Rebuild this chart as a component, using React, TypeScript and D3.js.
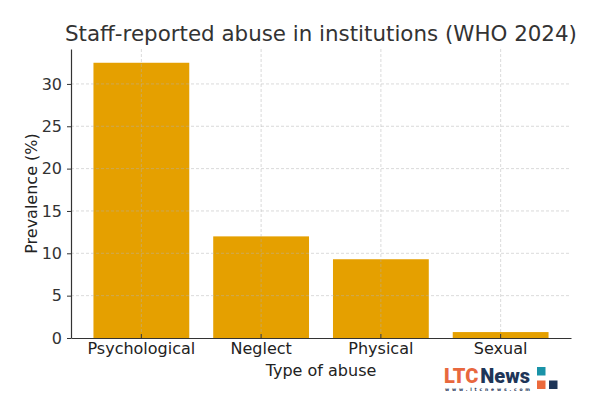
import React, { useEffect, useRef } from 'react'
import * as d3 from 'd3'

const categories = ['Psychological', 'Neglect', 'Physical', 'Sexual']
const prevalence = [32.5, 12.0, 9.3, 0.7]
const yTicks = [0, 5, 10, 15, 20, 25, 30]

const W = 600
const H = 395
const margin = { top: 49, right: 29, bottom: 57, left: 71 }
const FONT = 'DejaVu Sans, sans-serif'

export default function App() {
  const svgRef = useRef(null)

  useEffect(() => {
    const svg = d3.select(svgRef.current)
    svg.selectAll('*').remove()

    const x = d3
      .scaleBand()
      .domain(categories)
      .range([margin.left, W - margin.right])
      .paddingInner(0.2)
      .paddingOuter(0.1875)

    const y = d3
      .scaleLinear()
      .domain([0, 32.5 * 1.05])
      .range([H - margin.bottom, margin.top])

    const bottom = H - margin.bottom

    // bars
    svg
      .append('g')
      .selectAll('rect')
      .data(prevalence)
      .enter()
      .append('rect')
      .attr('x', (d, i) => x(categories[i]))
      .attr('y', (d) => y(d))
      .attr('width', x.bandwidth())
      .attr('height', (d) => bottom - y(d))
      .attr('fill', '#E5A000')

    // grid, drawn over the bars like the original
    const grid = svg.append('g').attr('stroke', '#b0b0b0').attr('stroke-opacity', 0.6).attr('stroke-dasharray', '3,2').attr('stroke-width', 0.8)
    grid
      .selectAll('.hg')
      .data(yTicks.slice(1))
      .enter()
      .append('line')
      .attr('x1', margin.left)
      .attr('x2', W - margin.right)
      .attr('y1', (d) => y(d))
      .attr('y2', (d) => y(d))
    grid
      .selectAll('.vg')
      .data(categories)
      .enter()
      .append('line')
      .attr('x1', (d) => x(d) + x.bandwidth() / 2)
      .attr('x2', (d) => x(d) + x.bandwidth() / 2)
      .attr('y1', margin.top)
      .attr('y2', bottom)

    // y axis
    const yAxis = svg
      .append('g')
      .attr('transform', `translate(${margin.left},0)`)
      .call(d3.axisLeft(y).tickValues(yTicks).tickSize(4).tickPadding(5).tickSizeOuter(0))
    yAxis.select('.domain').attr('stroke', '#333').attr('stroke-width', 1.2)
    yAxis.selectAll('line').attr('stroke', '#333')
    yAxis.selectAll('text').attr('font-family', FONT).attr('font-size', 16).attr('fill', '#333')

    // x axis, ticks point inward
    const xAxis = svg
      .append('g')
      .attr('transform', `translate(0,${bottom})`)
      .call(d3.axisBottom(x).tickSize(-4).tickPadding(5).tickSizeOuter(0))
    xAxis.select('.domain').attr('stroke', '#333').attr('stroke-width', 1.2)
    xAxis.selectAll('line').attr('stroke', '#333')
    xAxis.selectAll('text').attr('font-family', FONT).attr('font-size', 16).attr('fill', '#222')

    // title and axis labels
    svg
      .append('text')
      .attr('x', 321)
      .attr('y', 41)
      .attr('text-anchor', 'middle')
      .attr('font-family', FONT)
      .attr('font-size', 21.4)
      .attr('fill', '#333')
      .text('Staff-reported abuse in institutions (WHO 2024)')

    svg
      .append('text')
      .attr('x', (margin.left + W - margin.right) / 2)
      .attr('y', 376)
      .attr('text-anchor', 'middle')
      .attr('font-family', FONT)
      .attr('font-size', 16)
      .attr('fill', '#222')
      .text('Type of abuse')

    svg
      .append('text')
      .attr('transform', `translate(37,${(margin.top + bottom) / 2}) rotate(-90)`)
      .attr('text-anchor', 'middle')
      .attr('font-family', FONT)
      .attr('font-size', 16)
      .attr('fill', '#222')
      .text('Prevalence (%)')

    // LTC News logo
    const logo = svg.append('g')
    const word = logo
      .append('text')
      .attr('x', 444)
      .attr('y', 383)
      .attr('font-family', 'Roboto, sans-serif')
      .attr('font-weight', 900)
      .attr('font-size', 21)
      .attr('textLength', 86)
      .attr('lengthAdjust', 'spacingAndGlyphs')
    word.append('tspan').attr('fill', '#E8683E').text('LTC')
    word.append('tspan').attr('fill', '#1E3558').attr('dx', 2).text('News')
    logo
      .append('text')
      .attr('x', 445)
      .attr('y', 391)
      .attr('font-family', 'DejaVu Sans, sans-serif')
      .attr('font-weight', 700)
      .attr('font-size', 4.5)
      .attr('textLength', 85)
      .attr('lengthAdjust', 'spacing')
      .attr('fill', '#1E3558')
      .text('www.ltcnews.com')
    logo.append('rect').attr('x', 537).attr('y', 367).attr('width', 8.5).attr('height', 8.5).attr('fill', '#1A93A8')
    logo.append('rect').attr('x', 537).attr('y', 380.5).attr('width', 8.5).attr('height', 8.5).attr('fill', '#EC6A3C')
    logo.append('rect').attr('x', 549).attr('y', 380.5).attr('width', 8.5).attr('height', 8.5).attr('fill', '#1E3558')
  }, [])

  return (
    <svg
      ref={svgRef}
      width={W}
      height={H}
      style={{ position: 'absolute', left: 0, top: 0, background: '#fff' }}
    />
  )
}
